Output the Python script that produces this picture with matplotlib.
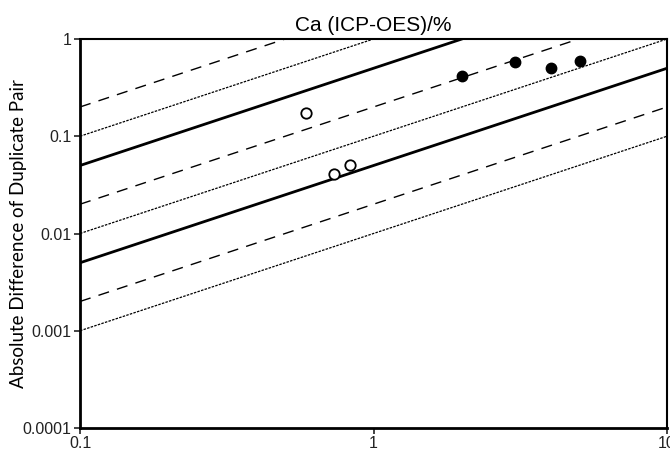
import matplotlib
matplotlib.use("Agg")
import matplotlib.pyplot as plt
import numpy as np

# reference lines y = c * x
solid_coefs = [0.5, 0.05]
dashed_coefs = [2, 0.2, 0.02]
dotted_coefs = [1, 0.1, 0.01]

# duplicate pairs: mean vs absolute difference
open_x = [0.587, 0.733, 0.83]
open_y = [0.172, 0.041, 0.051]
filled_x = [2.01, 3.03, 4.03, 5.04]
filled_y = [0.417, 0.58, 0.507, 0.598]

x_ticks = [0.1, 1, 10]
x_labels = ["0.1", "1", "10"]
y_ticks = [0.0001, 0.001, 0.01, 0.1, 1]
y_labels = ["0.0001", "0.001", "0.01", "0.1", "1"]

fig = plt.figure(figsize=(6.7, 4.62), dpi=100)
ax = fig.add_axes([80 / 670, 1 - 428 / 462, 587 / 670, 389 / 462])

xs = np.array([0.1, 10])
for c in solid_coefs:
    ax.plot(xs, c * xs, color="black", lw=2.0, solid_capstyle="butt")
for c in dashed_coefs:
    ax.plot(xs, c * xs, color="black", lw=1.0, dashes=(8, 6))
for c in dotted_coefs:
    ax.plot(xs, c * xs, color="black", lw=0.9, dashes=(2, 1))

ax.plot(open_x, open_y, "o", ms=7.5, mfc="white", mec="black", mew=1.3, zorder=5)
ax.plot(filled_x, filled_y, "o", ms=7.5, mfc="black", mec="black", zorder=5)

ax.set_xscale("log")
ax.set_yscale("log")
ax.set_xlim(0.1, 10)
ax.set_ylim(0.0001, 1)
ax.set_xticks(x_ticks)
ax.set_xticklabels(x_labels, fontfamily="Liberation Sans", fontsize=11.5)
ax.set_yticks(y_ticks)
ax.set_yticklabels(y_labels, fontfamily="Liberation Sans", fontsize=11.5)
ax.minorticks_off()
ax.tick_params(direction="out", length=4, width=1.2, pad=2, colors="#222222")

for side in ["left", "bottom"]:
    ax.spines[side].set_linewidth(2.0)
for side in ["top", "right"]:
    ax.spines[side].set_linewidth(1.5)

ax.set_title("Ca (ICP-OES)/%", fontfamily="Liberation Sans", fontsize=15, pad=6)
ax.set_ylabel("Absolute Difference of Duplicate Pair", fontfamily="Lato", fontsize=13.5)
ax.yaxis.set_label_coords(-0.09, 0.5)

fig.savefig("out.png", dpi=100)
